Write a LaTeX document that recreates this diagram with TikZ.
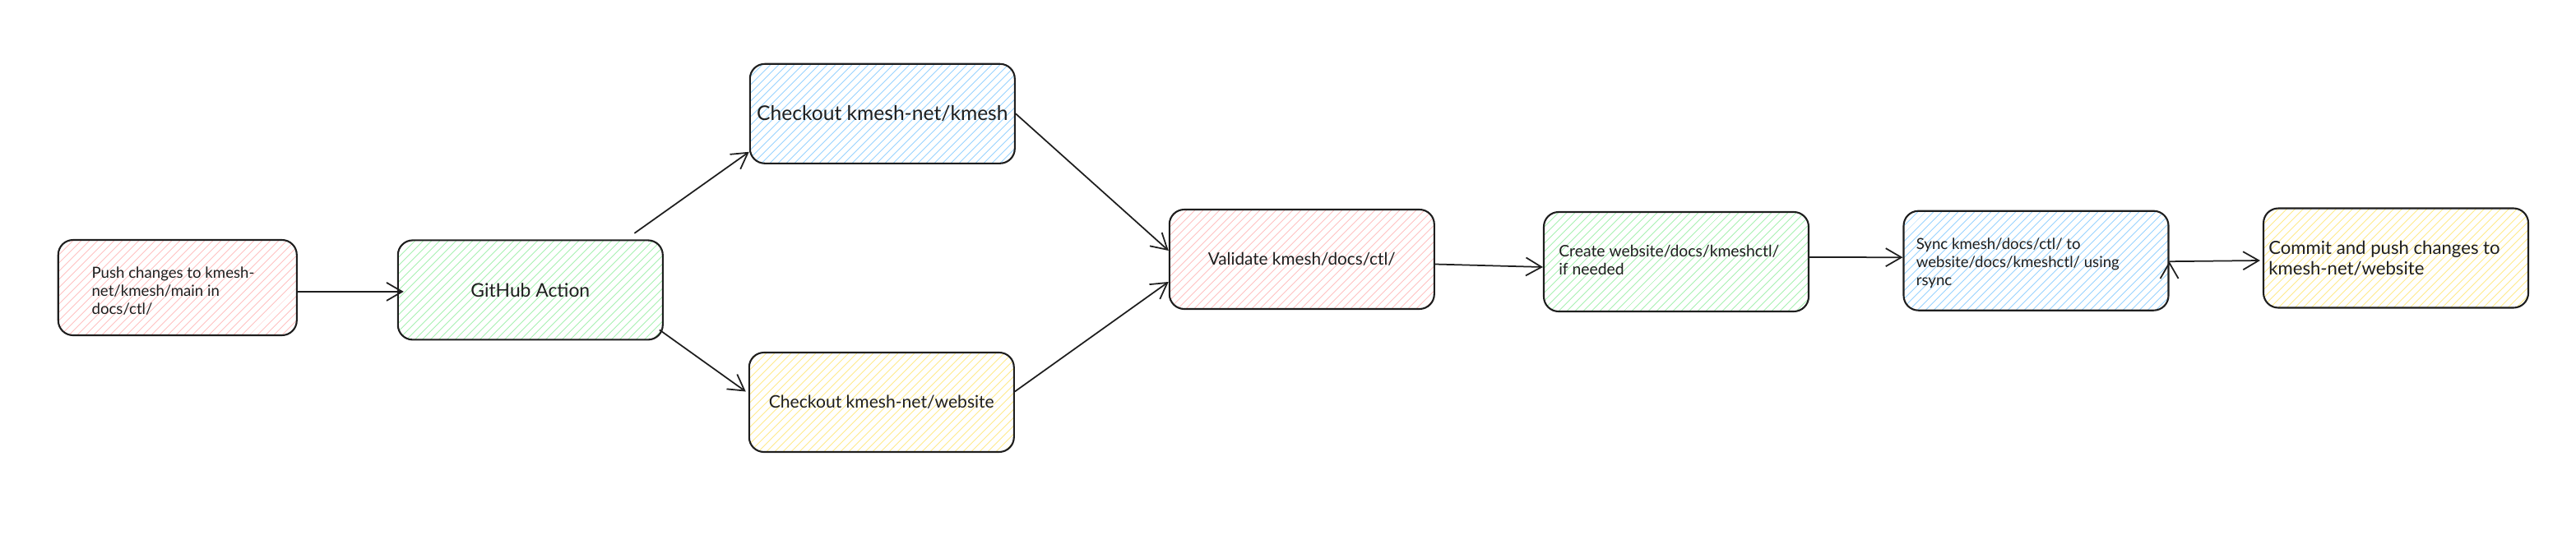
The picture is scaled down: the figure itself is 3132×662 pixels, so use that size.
\documentclass[tikz,border=0pt]{standalone}
\usepackage{fontspec}
\setmainfont{Lato}
\usetikzlibrary{arrows.meta, patterns.meta}

\definecolor{inkc}{HTML}{1E1E1E}
\definecolor{pinkc}{HTML}{FFC9C9}
\definecolor{greenc}{HTML}{B2F2BB}
\definecolor{bluec}{HTML}{A5D8FF}
\definecolor{yellowc}{HTML}{FFEC99}

\tikzset{
  box/.style={draw=inkc, line width=0.42mm, rounded corners=3.6mm,
    minimum width=64.4mm, minimum height=24.2mm, inner sep=0pt,
    pattern={Lines[angle=45, distance=1.4mm, line width=0.22mm]},
    pattern color=#1},
  bigtxt/.style={font=\fontsize{14}{17}\selectfont},
  midtxt/.style={font=\fontsize{12}{14.5}\selectfont},
  smalltxt/.style={font=\fontsize{10.6}{12.5}\selectfont, align=left,
    anchor=west, inner sep=0pt},
}

\begin{document}
\begin{tikzpicture}[x=0.2mm, y=-0.2mm, text=inkc,
    >={Straight Barb[length=3.8mm, width=4.4mm]}]
  \useasboundingbox (0,0) rectangle (3132,662);

  \node[box=pinkc, minimum width=58mm, minimum height=23.2mm] (push) at (215.8,350) {};
  \node[box=greenc, midtxt, font=\fontsize{13}{15}\selectfont] (gha) at (644.8,352.9) {GitHub Action};
  \node[box=bluec, bigtxt] (cokm) at (1072.8,138.3) {Checkout kmesh-net/kmesh};
  \node[box=yellowc, midtxt] (cows) at (1071.8,489.5) {Checkout kmesh-net/website};
  \node[box=pinkc, midtxt, font=\fontsize{11.8}{14}\selectfont] (valid) at (1582.8,315.5) {Validate kmesh/docs/ctl/};
  \node[box=greenc] (create) at (2038,318.5) {};
  \node[box=bluec] (sync) at (2475.5,317.2) {};
  \node[box=yellowc] (commit) at (2913,314) {};

  % left aligned texts
  \node[smalltxt] (pushtext) at ([xshift=8.2mm,yshift=-0.8mm]push.west)
    {Push changes to kmesh-\\net/kmesh/main in\\docs/ctl/};
  \node[smalltxt, font=\fontsize{11}{12.5}\selectfont] (createtext) at ([xshift=3.8mm,yshift=0.5mm]create.west)
    {Create website/docs/kmeshctl/\\if needed};
  \node[smalltxt] (synctext) at ([xshift=3.2mm,yshift=-0.6mm]sync.west)
    {Sync kmesh/docs/ctl/ to\\website/docs/kmeshctl/ using\\rsync};
  \node[smalltxt, font=\fontsize{12.6}{14.2}\selectfont] (committext) at ([xshift=1.4mm]commit.west)
    {Commit and push changes to\\kmesh-net/website};

  \path[->, draw=inkc, line width=0.35mm]
    ([yshift=-1mm]push.east) edge ([xshift=1.6mm,yshift=-0.4mm]gha.west)
    ([xshift=-7.1mm,yshift=1.5mm]gha.north east) edge ([yshift=-9.3mm]cokm.west)
    ([xshift=-1mm,yshift=2.6mm]gha.south east) edge ([xshift=-0.6mm,yshift=2.6mm]cows.west)
    (cokm.east) edge ([yshift=2.1mm]valid.west)
    ([yshift=2.6mm]cows.east) edge ([yshift=-5.5mm]valid.west)
    ([yshift=-1.2mm]valid.east) edge ([yshift=-1.3mm]create.west)
    ([yshift=1.1mm]create.east) edge ([yshift=0.8mm]sync.west)
    ([yshift=-0.2mm]sync.east) edge ([xshift=-0.6mm,yshift=-0.6mm]commit.west);
\end{tikzpicture}
\end{document}
